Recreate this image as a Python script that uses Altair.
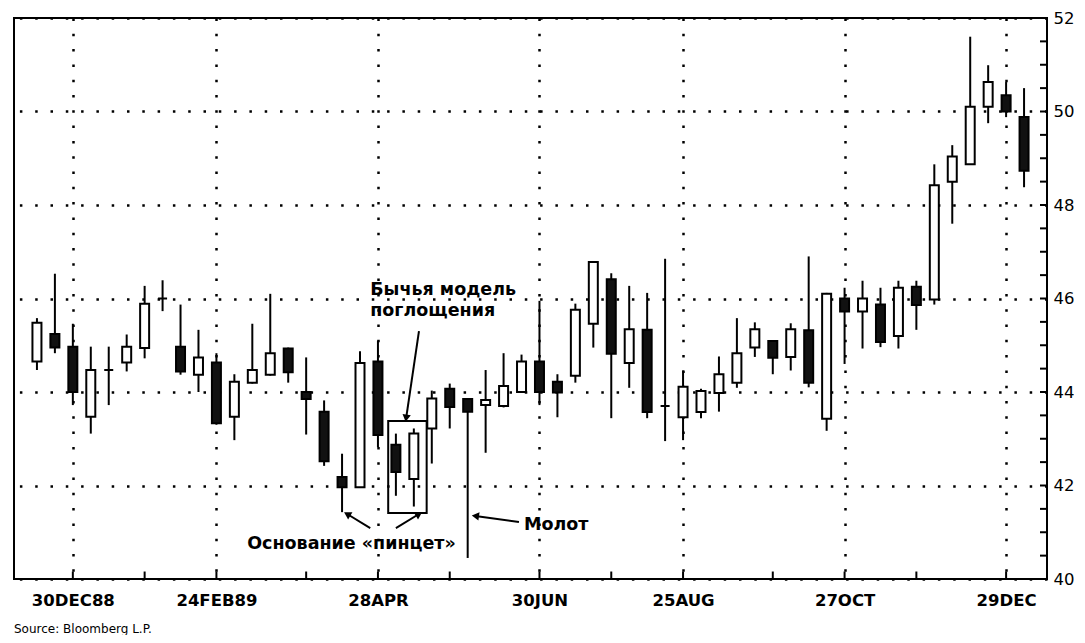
import math
import altair as alt
import pandas as pd

# ---------------- data (weekly candles) ----------------
first_week = "1988-12-16"
opens = [44.65, 45.24, 44.97, 43.47, 44.47, 44.63, 44.94, 46.00, 44.97, 44.37,
         44.63, 43.47, 44.20, 44.37, 44.93, 44.00, 43.58, 42.18, 41.96, 44.65,
         42.87, 42.14, 43.22, 44.07, 43.85, 43.72, 43.70, 44.00, 44.65, 44.22,
         44.35, 45.46, 46.41, 44.62, 45.33, 43.70, 43.46, 43.57, 43.98, 44.20,
         44.95, 45.09, 44.75, 45.32, 43.43, 46.00, 45.72, 45.87, 45.20, 46.25,
         45.98, 48.50, 48.87, 50.10, 50.35, 49.88]
highs = [45.58, 46.53, 45.46, 44.97, 44.97, 45.23, 46.27, 46.39, 45.87, 45.33,
         44.83, 44.38, 45.46, 46.10, 44.95, 44.74, 43.82, 42.68, 44.87, 45.10,
         43.11, 43.22, 44.03, 44.18, 43.85, 44.47, 44.83, 44.80, 45.95, 44.38,
         45.89, 46.78, 46.54, 46.27, 46.12, 46.85, 44.46, 44.07, 44.76, 45.58,
         45.49, 45.09, 45.47, 46.90, 46.12, 46.23, 46.38, 46.23, 46.38, 46.38,
         48.87, 49.28, 51.60, 50.99, 50.63, 50.50]
lows = [44.47, 44.83, 43.72, 43.11, 43.72, 44.44, 44.72, 45.73, 44.37, 44.00,
        43.30, 42.97, 44.18, 44.35, 44.20, 43.09, 42.42, 41.43, 41.96, 42.82,
        41.78, 41.55, 42.47, 43.22, 40.45, 42.70, 43.67, 43.98, 43.72, 43.46,
        44.20, 44.95, 43.44, 44.09, 43.44, 42.95, 42.97, 43.44, 43.58, 44.09,
        44.75, 44.38, 44.46, 44.10, 43.17, 44.60, 44.93, 44.96, 44.93, 45.33,
        45.87, 47.60, 48.87, 49.75, 49.88, 48.38]
closes = [45.48, 44.95, 44.00, 44.47, 44.47, 44.97, 45.89, 46.00, 44.44, 44.74,
          43.33, 44.22, 44.47, 44.83, 44.42, 43.85, 42.52, 41.96, 44.62, 43.08,
          42.29, 43.11, 43.86, 43.68, 43.58, 43.83, 44.13, 44.65, 44.00, 43.99,
          45.76, 46.78, 44.82, 45.34, 43.57, 43.70, 44.11, 44.02, 44.38, 44.83,
          45.34, 44.73, 45.34, 44.20, 46.10, 45.72, 46.00, 45.07, 46.23, 45.86,
          48.42, 49.04, 50.10, 50.63, 50.00, 48.73]

tick_dates = ["1988-12-30", "1989-01-27", "1989-02-24", "1989-03-31", "1989-04-28",
              "1989-05-26", "1989-06-30", "1989-07-28", "1989-08-25", "1989-09-29",
              "1989-10-27", "1989-11-24", "1989-12-29"]
label_dates = ["1988-12-30", "1989-02-24", "1989-04-28", "1989-06-30",
               "1989-08-25", "1989-10-27", "1989-12-29"]
label_texts = ["30DEC88", "24FEB89", "28APR", "30JUN", "25AUG", "27OCT", "29DEC"]
price_labels = [40, 42, 44, 46, 48, 50, 52]
minor_prices = [40.5, 41, 41.5, 42, 42.5, 43, 43.5, 44, 44.5, 45, 45.5, 46, 46.5,
                47, 47.5, 48, 48.5, 49, 49.5, 50, 50.5, 51, 51.5]
x_start, x_end = "1988-12-09", "1990-01-12"

# annotations (date, price)
note_dates = ["1989-04-25", "1989-04-25", "1989-03-08", "1989-06-24"]
note_prices = [46.18, 45.73, 40.75, 41.16]
note_texts = ["Бычья модель", "поглощения", "Основание «пинцет»", "Молот"]

arrow_from_dates = ["1989-05-14", "1989-04-25", "1989-05-05", "1989-06-22"]
arrow_from_prices = [45.30, 41.09, 41.09, 41.22]
arrow_to_dates = ["1989-05-09", "1989-04-16", "1989-05-14", "1989-06-05"]
arrow_to_prices = [43.44, 41.39, 41.39, 41.35]

box_dates = ["1989-05-02", "1989-05-17"]
box_prices = [41.41, 43.38]

# ---------------- layout ----------------
W, H = 1033, 561
FONT = "DejaVu Sans"


def ts(s):
    return pd.Timestamp(s)


def dt(s):
    t = ts(s)
    return alt.DateTime(year=t.year, month=t.month, date=t.day)


df = pd.DataFrame({
    "date": pd.date_range(first_week, periods=len(opens), freq="7D"),
    "open": opens, "high": highs, "low": lows, "close": closes,
})

label_expr = "".join(
    f"timeFormat(datum.value, '%Y-%m-%d') == '{d}' ? '{t}' : "
    for d, t in zip(label_dates, label_texts)) + "''"

xscale = alt.Scale(domain=[dt(x_start), dt(x_end)])
yscale = alt.Scale(domain=[40, 52], nice=False, zero=False)

x_axis = alt.Axis(values=[dt(d) for d in label_dates], labelExpr=label_expr,
                  title=None, grid=True, gridColor="black", gridWidth=2.5,
                  gridDash=[2.5, 12.8], ticks=False, domain=False,
                  labelFont=FONT, labelFontSize=16.5, labelFontWeight="bold",
                  labelColor="black", labelPadding=13, labelFlush=False)
y_axis = alt.Axis(orient="right", values=price_labels, title=None, grid=True,
                  gridColor="black", gridWidth=2.5, gridDash=[2.5, 12.8],
                  ticks=False, domain=False, labelFont=FONT, labelFontSize=16.5,
                  labelColor="black", labelPadding=6, format="d")

wicks = alt.Chart(df).mark_rule(color="black", strokeWidth=2).encode(
    x=alt.X("date:T", scale=xscale, axis=x_axis),
    y=alt.Y("low:Q", scale=yscale, axis=y_axis),
    y2="high:Q",
)

bodies = alt.Chart(df).mark_bar(size=9, stroke="black", strokeWidth=2).encode(
    x=alt.X("date:T"),
    y=alt.Y("open:Q"),
    y2="close:Q",
    fill=alt.condition("datum.close >= datum.open", alt.value("white"), alt.value("#111111")),
)

ticks_df = pd.DataFrame({"date": pd.to_datetime(tick_dates)})
bottom_ticks = alt.Chart(ticks_df).mark_rule(color="black", strokeWidth=2).encode(
    x=alt.X("date:T"),
    y=alt.datum(40),
    y2=alt.datum(40.16),
)

right_df = pd.DataFrame({"p": minor_prices})
right_ticks = alt.Chart(right_df).mark_rule(color="black", strokeWidth=2).encode(
    y=alt.Y("p:Q"),
    x=alt.value(W),
    x2=alt.value(W - 7),
)

notes_df = pd.DataFrame({"date": pd.to_datetime(note_dates), "price": note_prices,
                         "text": note_texts})
notes = alt.Chart(notes_df).mark_text(align="left", baseline="middle", font=FONT,
                                      fontSize=17.5, fontWeight="bold", color="black").encode(
    x=alt.X("date:T"),
    y=alt.Y("price:Q"),
    text="text:N",
)

px_day = W / (ts(x_end) - ts(x_start)).days
px_unit = H / 12.0
angles = []
for fd, fp, td, tp in zip(arrow_from_dates, arrow_from_prices, arrow_to_dates, arrow_to_prices):
    dx = (ts(td) - ts(fd)).days * px_day
    dy = -(tp - fp) * px_unit
    angles.append(math.degrees(math.atan2(dx, -dy)) % 360)

arrows_df = pd.DataFrame({
    "d1": pd.to_datetime(arrow_from_dates), "p1": arrow_from_prices,
    "d2": pd.to_datetime(arrow_to_dates), "p2": arrow_to_prices,
    "angle": angles,
})
arrow_lines = alt.Chart(arrows_df).mark_rule(color="black", strokeWidth=2).encode(
    x=alt.X("d1:T"), x2="d2:T",
    y=alt.Y("p1:Q"), y2="p2:Q",
)
arrow_heads = alt.Chart(arrows_df).mark_point(shape="triangle-up", filled=True,
                                              color="black", size=70, opacity=1).encode(
    x=alt.X("d2:T"),
    y=alt.Y("p2:Q"),
    angle=alt.Angle("angle:Q", scale=None),
)

box_df = pd.DataFrame({"d1": [ts(box_dates[0])], "d2": [ts(box_dates[1])],
                       "p1": [box_prices[0]], "p2": [box_prices[1]]})
box = alt.Chart(box_df).mark_rect(fillOpacity=0, stroke="black", strokeWidth=2).encode(
    x=alt.X("d1:T"), x2="d2:T",
    y=alt.Y("p1:Q"), y2="p2:Q",
)

chart = alt.layer(
    wicks, bodies, bottom_ticks, right_ticks, box, arrow_lines, arrow_heads, notes
).properties(
    width=W, height=H,
    padding={"left": 6, "top": 2, "right": 0, "bottom": 0},
    title=alt.TitleParams("Source:  Bloomberg L.P.", orient="bottom", anchor="start",
                          font=FONT, fontSize=12, fontWeight="normal", color="black",
                          offset=15),
).configure(
    background="white"
).configure_view(
    stroke="black", strokeWidth=2
)

chart.save("out.html", embed_options={"renderer": "svg", "actions": False})
